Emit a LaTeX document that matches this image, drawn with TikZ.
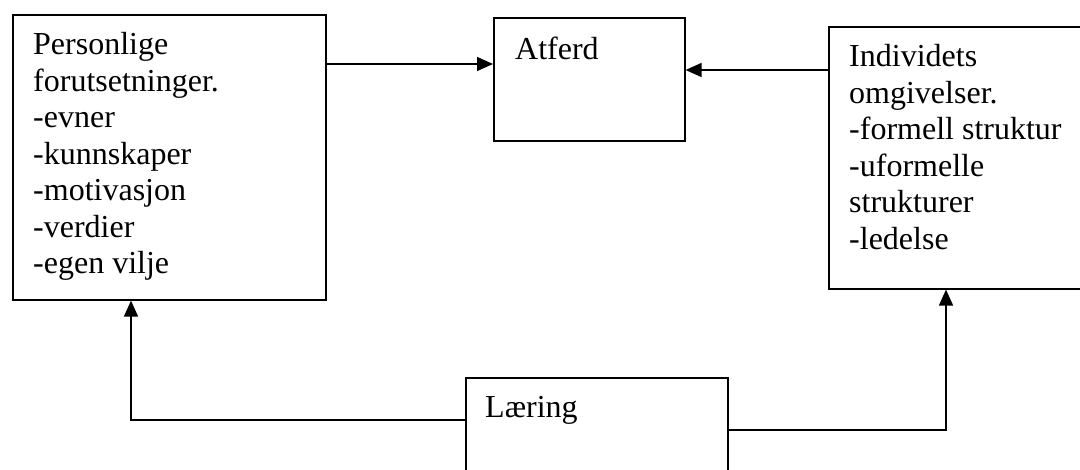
\documentclass[tikz,border=0pt]{standalone}
\usepackage{fontspec}
\setmainfont{Liberation Serif}
\usetikzlibrary{arrows.meta}
\begin{document}
\begin{tikzpicture}[x=1pt,y=-1pt,
  box/.style={draw, line width=1.6pt, rectangle, anchor=north west, inner sep=0pt},
  txt/.style={anchor=north west, inner sep=0pt, align=left, font=\fontsize{32}{36.5}\selectfont},
  arr/.style={line width=1.6pt, -{Triangle[length=16pt,width=14pt]}}]
\useasboundingbox (0,0) rectangle (1080,470);
\clip (0,0) rectangle (1080,470);
\node[box, minimum width=313pt, minimum height=285pt] (pers) at (12,14) {};
\node[box, minimum width=191pt, minimum height=123pt] (atf) at (493,17) {};
\node[box, minimum width=270pt, minimum height=262pt] (omg) at (828,26) {};
\node[box, minimum width=262pt, minimum height=110pt] (lar) at (465,377) {};
\node[txt] (perst) at (33,32.5) {Personlige\\forutsetninger.\\-evner\\-kunnskaper\\-motivasjon\\-verdier\\-egen vilje};
\node[txt] (atft) at (515,36.5) {Atferd};
\node[txt] (omgt) at (849,44.5) {Individets\\omgivelser.\\-formell struktur\\-uformelle\\strukturer\\-ledelse};
\node[txt] (lart) at (485,396) {Læring};
\draw[arr] ([yshift=-50pt]pers.north east) -- ([yshift=-50pt]pers.north east -| atf.west);
\draw[arr] ([yshift=-44pt]omg.north west) -- ([yshift=-44pt]omg.north west -| atf.east);
\draw[arr] ([yshift=-43pt]lar.north west) -| ([xshift=119pt]pers.south west);
\draw[arr] ([yshift=-53pt]lar.north east) -| ([xshift=118pt]omg.south west);
\end{tikzpicture}
\end{document}
